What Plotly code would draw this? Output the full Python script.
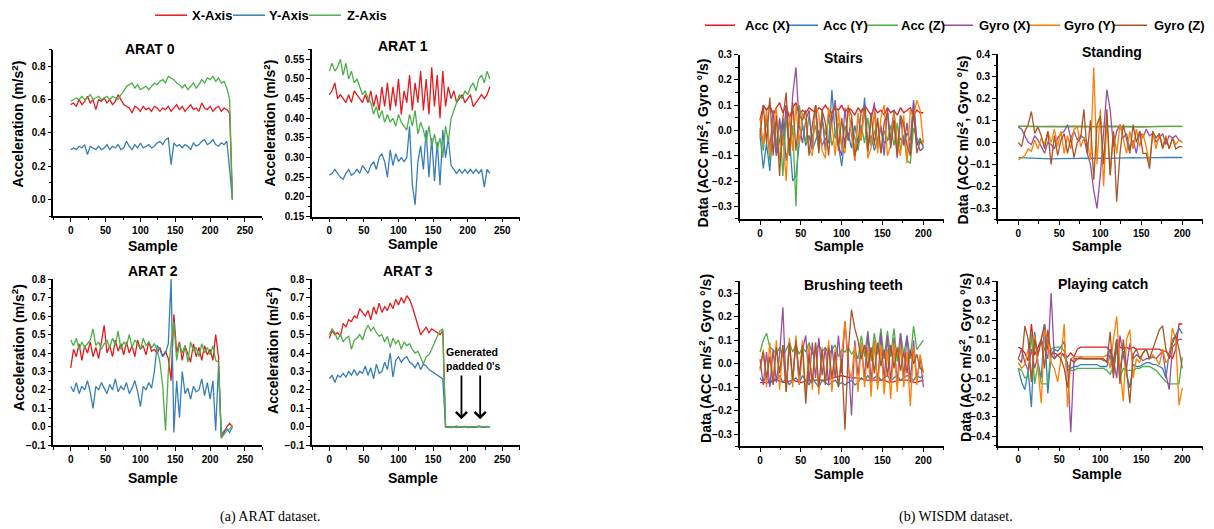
import plotly.graph_objects as go

# ---------------- DATA ----------------
ARAT_SAMPLES = list(range(0, 233, 4))      # 0..232
WISDM_SAMPLES = list(range(0, 201, 4))     # 0..200
FLAT_SAMPLES = list(range(0, 201, 10))     # 0..200

ARAT_NAMES = ["X-Axis", "Y-Axis", "Z-Axis"]
WISDM_NAMES = ["Acc (X)", "Acc (Y)", "Acc (Z)", "Gyro (X)", "Gyro (Y)", "Gyro (Z)"]
ARAT_TITLES = ["ARAT 0", "ARAT 1", "ARAT 2", "ARAT 3"]
WISDM_TITLES = ["Stairs", "Standing", "Brushing teeth", "Playing catch"]

# ARAT 0
arat0_x = [0.57,0.58,0.56,0.60,0.57,0.59,0.62,0.58,0.60,0.54,
           0.60,0.59,0.61,0.58,0.60,0.57,0.59,0.63,0.60,0.57,
           0.56,0.55,0.52,0.56,0.55,0.53,0.56,0.54,0.55,0.53,
           0.56,0.55,0.53,0.55,0.54,0.56,0.53,0.55,0.57,0.54,
           0.56,0.53,0.55,0.57,0.54,0.55,0.53,0.58,0.55,0.54,
           0.56,0.53,0.55,0.56,0.53,0.55,0.54,0.52,0.00]
arat0_y = [0.30,0.31,0.30,0.32,0.31,0.33,0.27,0.32,0.31,0.30,
           0.32,0.30,0.31,0.33,0.30,0.32,0.31,0.33,0.30,0.31,
           0.35,0.32,0.30,0.33,0.31,0.34,0.31,0.32,0.33,0.31,
           0.32,0.34,0.35,0.33,0.36,0.37,0.21,0.34,0.32,0.33,
           0.31,0.33,0.32,0.30,0.34,0.32,0.33,0.35,0.36,0.33,
           0.34,0.36,0.33,0.32,0.34,0.33,0.35,0.18,0.00]
arat0_z = [0.59,0.60,0.61,0.60,0.62,0.60,0.61,0.63,0.60,0.61,
           0.62,0.60,0.61,0.62,0.60,0.62,0.61,0.60,0.63,0.65,
           0.68,0.69,0.70,0.67,0.69,0.66,0.67,0.68,0.66,0.68,
           0.70,0.69,0.71,0.72,0.70,0.74,0.73,0.72,0.70,0.69,
           0.67,0.69,0.66,0.68,0.70,0.67,0.69,0.72,0.70,0.73,
           0.72,0.74,0.71,0.73,0.70,0.71,0.67,0.60,0.00]

# ARAT 1
arat1_x = [0.46,0.47,0.49,0.45,0.46,0.45,0.44,0.46,0.44,0.47,
           0.46,0.45,0.44,0.46,0.44,0.47,0.43,0.46,0.42,0.48,
           0.43,0.49,0.42,0.48,0.43,0.50,0.41,0.47,0.44,0.51,
           0.42,0.49,0.44,0.52,0.42,0.50,0.41,0.53,0.43,0.51,
           0.40,0.52,0.43,0.48,0.45,0.47,0.44,0.45,0.46,0.44,
           0.45,0.46,0.43,0.44,0.45,0.46,0.45,0.46,0.48]
arat1_y = [0.255,0.26,0.27,0.26,0.25,0.245,0.26,0.27,0.255,0.26,
           0.27,0.26,0.28,0.27,0.26,0.28,0.29,0.27,0.30,0.31,
           0.29,0.25,0.32,0.28,0.31,0.29,0.30,0.29,0.30,0.38,
           0.23,0.18,0.29,0.33,0.27,0.37,0.25,0.35,0.24,0.34,
           0.23,0.37,0.30,0.35,0.28,0.27,0.26,0.27,0.26,0.27,
           0.26,0.27,0.26,0.27,0.26,0.27,0.225,0.27,0.26]
arat1_z = [0.52,0.54,0.52,0.53,0.55,0.51,0.54,0.50,0.52,0.49,
           0.50,0.48,0.46,0.47,0.45,0.44,0.41,0.43,0.40,0.42,
           0.39,0.41,0.39,0.40,0.38,0.41,0.39,0.38,0.37,0.41,
           0.38,0.42,0.36,0.39,0.37,0.34,0.38,0.33,0.36,0.32,
           0.35,0.30,0.38,0.34,0.40,0.42,0.44,0.46,0.45,0.47,
           0.46,0.48,0.49,0.47,0.50,0.51,0.49,0.52,0.50]

# ARAT 2
arat2_x = [0.32,0.42,0.38,0.45,0.36,0.44,0.40,0.46,0.38,0.43,
           0.37,0.46,0.55,0.40,0.44,0.38,0.47,0.41,0.45,0.39,
           0.46,0.40,0.44,0.38,0.47,0.42,0.44,0.39,0.46,0.41,
           0.42,0.40,0.43,0.38,0.41,0.37,0.25,0.61,0.40,0.46,
           0.36,0.44,0.40,0.35,0.45,0.38,0.43,0.36,0.44,0.39,
           0.42,0.36,0.50,0.38,-0.06,-0.03,0.00,0.02,0.00]
arat2_y = [0.22,0.19,0.24,0.18,0.22,0.20,0.25,0.19,0.10,0.22,
           0.20,0.24,0.21,0.18,0.23,0.20,0.26,0.19,0.22,0.20,
           0.24,0.18,0.21,0.25,0.19,0.11,0.22,0.20,0.24,0.21,
           0.30,0.44,0.42,0.38,0.40,0.45,0.80,-0.03,0.25,0.05,
           0.30,0.18,0.21,0.15,0.22,0.19,0.20,0.26,0.17,0.24,
           0.15,0.25,-0.02,0.33,-0.04,-0.02,-0.01,-0.03,0.00]
arat2_z = [0.47,0.44,0.48,0.42,0.46,0.43,0.45,0.47,0.53,0.44,
           0.46,0.42,0.45,0.47,0.43,0.48,0.44,0.52,0.42,0.46,
           0.44,0.50,0.43,0.47,0.45,0.42,0.48,0.44,0.46,0.43,
           0.45,0.42,0.35,0.22,-0.02,0.30,0.45,0.57,0.36,0.45,
           0.40,0.44,0.35,0.46,0.41,0.43,0.38,0.45,0.40,0.43,
           0.39,0.44,0.36,0.35,-0.06,-0.04,-0.02,-0.01,0.01]

# ARAT 3 (padded zeros after sample ~166)
arat3_x = [0.48,0.52,0.50,0.51,0.49,0.56,0.54,0.58,0.57,0.60,
           0.59,0.64,0.62,0.60,0.63,0.58,0.65,0.61,0.67,0.62,
           0.65,0.63,0.67,0.64,0.69,0.66,0.70,0.67,0.71,0.69,
           0.65,0.60,0.55,0.50,0.52,0.54,0.51,0.53,0.52,0.51,
           0.50,0.52,
           0.0,0.002,-0.003,0.0,0.004,-0.002,0.0,0.003,-0.004,0.0,
           0.002,-0.003,0.005,0.0,-0.002,0.003,0.0]
arat3_y = [0.26,0.28,0.24,0.28,0.27,0.29,0.27,0.30,0.28,0.31,
           0.28,0.30,0.29,0.33,0.28,0.32,0.26,0.34,0.29,0.30,
           0.35,0.31,0.40,0.27,0.36,0.38,0.35,0.37,0.38,0.35,
           0.34,0.32,0.35,0.31,0.34,0.33,0.31,0.30,0.29,0.28,
           0.27,0.26,
           0.0,-0.002,0.001,0.0,-0.003,0.002,0.0,-0.001,0.002,0.0,
           -0.002,0.001,0.0,0.002,-0.001,0.0,0.001]
arat3_z = [0.50,0.53,0.51,0.47,0.50,0.46,0.48,0.49,0.42,0.47,
           0.48,0.50,0.47,0.52,0.55,0.52,0.54,0.51,0.49,0.50,
           0.46,0.49,0.43,0.48,0.45,0.47,0.42,0.46,0.44,0.45,
           0.42,0.40,0.41,0.37,0.34,0.38,0.39,0.42,0.46,0.49,
           0.52,0.53,
           0.0,-0.003,0.002,-0.004,0.0,0.003,-0.002,0.0,-0.003,0.002,
           0.0,-0.002,0.003,-0.001,0.0,0.002,0.001]

# WISDM - Stairs
stairs_acc_x = [0.04,0.10,0.08,0.10,0.06,0.09,0.11,0.07,0.10,0.05,
                0.09,0.11,0.06,0.08,0.07,0.09,0.08,0.07,0.09,0.08,
                0.10,0.08,0.07,0.09,0.08,0.10,0.07,0.09,0.08,0.06,
                0.09,0.07,0.10,0.08,0.06,0.09,0.07,0.08,0.06,0.09,
                0.07,0.08,0.06,0.09,0.07,0.08,0.09,0.06,0.08,0.07,
                0.07]
stairs_acc_y = [-0.02,-0.15,-0.05,-0.16,0.02,-0.10,-0.04,0.05,-0.12,-0.03,
                -0.20,-0.18,-0.05,0.02,-0.06,-0.02,-0.08,-0.04,0.00,-0.06,
                -0.03,-0.05,0.16,-0.02,-0.06,-0.14,-0.03,-0.01,-0.07,0.02,
                -0.05,-0.03,0.13,-0.06,-0.02,-0.08,-0.03,0.01,-0.05,-0.04,
                -0.02,0.08,-0.06,-0.03,-0.05,-0.01,-0.04,0.12,-0.06,-0.03,
                -0.07]
stairs_acc_z = [0.01,-0.08,0.05,-0.12,0.08,-0.06,0.04,-0.18,0.06,-0.10,
                0.02,-0.30,0.10,0.03,-0.05,0.06,-0.03,0.02,-0.08,0.04,
                -0.02,0.05,-0.06,-0.01,0.03,-0.07,0.02,-0.04,0.04,-0.03,
                -0.08,0.02,-0.05,0.05,-0.06,-0.01,0.03,-0.09,0.00,-0.04,
                0.02,-0.06,0.03,-0.08,-0.02,-0.12,-0.13,0.01,-0.03,-0.05,
                -0.04]
stairs_gyro_x = [0.00,-0.05,0.06,-0.08,0.08,-0.10,0.05,-0.06,0.10,-0.08,
                 0.14,0.25,0.02,-0.05,0.04,0.08,-0.07,0.10,-0.05,0.06,
                 -0.08,0.07,0.03,0.12,-0.06,-0.10,0.09,-0.04,0.05,-0.12,
                 0.06,-0.02,0.10,-0.09,0.04,0.11,-0.07,0.02,-0.10,0.09,
                 -0.05,0.04,-0.11,0.06,-0.06,0.03,-0.09,0.11,-0.04,-0.08,
                 -0.07]
stairs_gyro_y = [0.05,-0.06,0.08,-0.10,0.02,0.09,-0.12,-0.02,-0.20,0.06,
                 -0.08,0.10,-0.05,0.07,0.04,-0.07,-0.10,0.10,0.06,-0.08,
                 -0.11,0.09,0.03,-0.10,0.08,-0.06,-0.09,0.10,-0.02,-0.12,
                 0.07,-0.04,0.09,-0.11,-0.07,0.08,-0.09,0.05,0.10,-0.10,
                 -0.06,0.07,-0.05,-0.10,0.06,-0.13,0.08,0.05,0.12,0.08,
                 -0.05]
stairs_gyro_z = [-0.02,0.10,-0.05,0.13,-0.10,0.06,-0.18,0.05,0.15,-0.10,
                 0.11,-0.08,0.06,0.04,0.08,-0.10,0.02,0.10,-0.09,0.08,
                 0.03,-0.10,0.07,0.10,-0.08,0.05,-0.07,0.09,0.06,-0.10,
                 -0.05,0.08,0.09,-0.08,0.07,-0.06,0.05,-0.09,0.03,0.07,
                 -0.07,0.04,-0.10,0.06,0.02,-0.06,-0.10,0.08,-0.09,-0.04,
                 -0.06]

# WISDM - Standing
standing_acc_x = [0.072,0.071,0.070,0.071,0.072,0.070,0.071,0.072,0.070,0.071,0.072,
                  0.071,0.070,0.072,0.071,0.070,0.071,0.072,0.070,0.071,0.072]
standing_acc_y = [-0.070,-0.072,-0.074,-0.073,-0.075,-0.074,-0.073,-0.072,-0.074,-0.073,-0.072,
                  -0.073,-0.071,-0.072,-0.070,-0.071,-0.069,-0.070,-0.069,-0.070,-0.069]
standing_acc_z = [0.073,0.072,0.071,0.073,0.072,0.071,0.073,0.072,0.074,0.072,0.071,
                  0.073,0.072,0.071,0.073,0.072,0.071,0.072,0.073,0.072,0.071]
standing_gyro_x = [0.07,0.06,0.03,0.00,-0.01,0.03,0.01,-0.02,-0.05,0.00,
                   -0.01,-0.03,0.02,0.04,0.05,0.08,0.02,0.05,0.01,0.03,
                   0.02,-0.05,-0.10,-0.22,-0.30,-0.15,0.05,0.24,0.15,-0.02,
                   0.05,0.08,0.02,0.04,-0.03,0.01,-0.05,0.05,0.02,0.06,
                   0.03,0.04,0.00,0.02,0.04,-0.01,0.03,0.02,0.03,0.01,
                   0.00]
standing_gyro_y = [-0.08,-0.07,-0.06,-0.03,-0.04,0.01,-0.03,0.02,-0.01,0.05,
                   0.00,0.06,-0.02,0.05,-0.05,0.03,-0.03,0.06,0.07,-0.02,
                   0.02,0.00,-0.08,0.34,-0.10,0.15,-0.20,0.10,-0.15,0.05,
                   -0.05,0.08,0.02,-0.05,0.05,-0.03,0.06,-0.02,0.04,-0.02,
                   -0.10,0.05,-0.03,0.04,-0.02,0.03,-0.03,0.02,-0.01,0.01,
                   0.00]
standing_gyro_z = [0.00,-0.02,0.05,0.08,0.14,0.04,0.07,0.03,-0.03,0.05,
                   -0.10,0.03,-0.06,0.01,0.04,-0.05,0.02,-0.07,0.00,0.02,
                   0.15,-0.05,0.10,-0.17,0.08,0.12,-0.10,0.15,-0.15,0.05,
                   -0.27,-0.05,0.08,0.02,-0.05,0.08,0.00,0.05,-0.05,-0.05,
                   -0.12,0.05,0.02,0.04,-0.03,0.02,-0.03,0.02,-0.03,-0.02,
                   -0.02]

# WISDM - Brushing teeth
brushing_acc_x = [-0.08,-0.08,-0.07,-0.08,-0.07,-0.08,-0.07,-0.07,-0.07,-0.06,-0.05,
                  -0.06,-0.06,-0.07,-0.07,-0.07,-0.08,-0.07,-0.07,-0.08,-0.07]
brushing_acc_y = [-0.06,-0.08,-0.05,-0.09,-0.06,-0.07,-0.05,-0.08,-0.06,-0.09,
                  -0.07,-0.06,-0.08,-0.05,-0.07,-0.09,-0.06,-0.08,-0.10,-0.07,
                  -0.08,-0.09,-0.08,-0.07,-0.09,-0.08,-0.09,-0.08,-0.07,-0.09,
                  -0.08,-0.06,-0.07,-0.05,-0.07,-0.06,-0.05,-0.07,-0.06,-0.05,
                  -0.07,-0.06,-0.05,-0.07,-0.06,-0.05,-0.06,-0.07,-0.05,-0.06,
                  -0.05]
brushing_acc_z = [0.05,0.10,0.13,0.07,0.06,0.04,0.07,0.03,0.06,0.09,
                  0.05,0.08,0.04,0.07,0.05,0.09,0.04,0.06,0.08,0.05,
                  0.07,0.04,0.06,0.08,0.03,0.06,0.05,0.07,0.04,0.06,
                  0.02,0.12,0.03,0.14,0.01,0.13,0.04,0.15,0.02,0.14,
                  0.03,0.15,0.01,0.13,0.04,0.12,0.02,0.16,0.06,0.08,
                  0.10]
brushing_gyro_x = [0.02,-0.09,0.05,-0.10,0.06,-0.08,0.04,0.24,-0.10,0.08,
                   -0.07,0.10,-0.09,0.06,0.12,-0.08,0.09,-0.06,0.11,-0.05,
                   0.07,-0.09,0.08,-0.06,0.12,-0.04,0.18,0.02,-0.22,0.10,
                   -0.05,0.08,-0.06,0.13,-0.08,0.10,-0.09,0.13,-0.07,0.12,
                   -0.08,0.11,-0.09,0.13,-0.06,0.12,-0.08,0.10,-0.07,0.03,
                   -0.10]
brushing_gyro_y = [-0.03,0.06,-0.10,0.09,-0.08,0.10,-0.11,0.08,-0.12,0.11,
                   -0.10,0.12,-0.09,0.10,-0.14,0.08,-0.11,0.09,-0.13,0.07,
                   -0.08,0.10,-0.12,0.06,-0.10,0.05,0.18,-0.02,-0.06,0.08,
                   -0.12,0.09,-0.10,0.07,-0.14,0.10,-0.11,0.08,-0.13,0.06,
                   -0.15,0.09,-0.12,0.08,-0.10,0.05,-0.18,0.07,-0.09,0.04,
                   -0.04]
brushing_gyro_z = [-0.02,0.05,-0.06,0.03,-0.09,0.07,-0.04,0.08,-0.12,0.09,
                   -0.07,0.10,-0.05,0.08,-0.17,0.04,-0.08,0.09,-0.10,0.06,
                   -0.09,0.07,-0.06,0.05,-0.10,0.02,-0.28,0.05,0.23,0.15,
                   0.10,0.02,0.08,-0.02,0.07,-0.04,0.09,-0.01,0.06,-0.05,
                   0.08,-0.02,0.07,-0.03,0.05,-0.04,0.06,0.00,0.04,-0.02,
                   -0.03]

# WISDM - Playing catch
catch_acc_x = [0.06,0.05,0.03,-0.01,0.18,0.02,0.06,0.10,0.18,0.05,
               0.02,0.03,0.02,0.03,0.02,0.01,0.03,0.01,0.05,0.06,
               0.06,0.06,0.06,0.06,0.06,0.06,0.06,0.06,0.04,-0.02,
               0.10,0.06,0.05,0.06,0.05,0.06,0.05,0.05,0.05,0.05,
               0.05,0.05,0.05,0.05,0.04,0.04,0.02,0.00,0.05,0.18,
               0.18]
catch_acc_y = [-0.05,-0.12,-0.16,-0.06,-0.25,0.14,-0.02,-0.10,0.18,-0.18,
               0.02,0.05,0.04,0.06,0.09,-0.06,-0.05,-0.04,-0.04,-0.03,
               -0.03,-0.03,-0.03,-0.03,-0.03,-0.04,-0.04,-0.04,0.02,-0.08,
               0.10,-0.05,0.04,-0.08,-0.15,-0.03,-0.04,-0.04,-0.03,-0.02,
               -0.02,-0.03,-0.03,-0.04,-0.05,-0.10,0.03,0.10,0.12,0.16,
               0.13]
catch_acc_z = [-0.05,-0.06,-0.10,-0.09,0.13,-0.13,-0.03,-0.13,-0.13,-0.13,
               0.05,0.06,0.06,0.06,0.04,-0.03,-0.06,-0.06,-0.05,-0.05,
               -0.05,-0.05,-0.05,-0.05,-0.05,-0.05,-0.05,-0.06,-0.08,-0.04,
               0.05,-0.10,-0.05,-0.06,-0.06,-0.06,-0.05,-0.05,-0.04,-0.04,
               -0.04,-0.05,-0.06,-0.08,-0.10,-0.12,-0.13,-0.13,-0.13,-0.13,
               0.01]
catch_gyro_x = [0.00,0.05,-0.02,-0.06,0.05,-0.05,0.02,0.10,0.05,0.00,
                0.34,0.00,0.02,0.03,0.01,-0.02,-0.38,0.00,0.00,0.01,
                0.00,0.00,0.00,0.00,0.00,0.00,-0.01,-0.01,0.05,0.00,
                -0.10,0.12,0.02,-0.05,0.08,0.00,0.02,0.01,-0.01,0.00,
                0.00,0.01,0.00,0.02,0.04,-0.08,-0.16,0.06,0.08,0.10,
                0.10]
catch_gyro_y = [-0.02,-0.05,-0.03,0.05,-0.10,0.12,-0.05,-0.23,0.15,0.08,
                -0.02,-0.05,-0.12,0.00,0.18,-0.25,0.00,0.01,0.01,0.01,
                0.01,0.01,0.01,0.01,0.01,0.01,0.01,0.02,-0.05,0.10,
                0.22,-0.05,-0.22,0.10,0.15,-0.10,0.00,-0.02,0.03,0.05,
                0.00,0.02,0.00,-0.03,0.05,-0.02,0.00,0.16,0.10,-0.24,
                -0.15]
catch_gyro_z = [0.00,-0.02,0.17,0.10,-0.12,0.10,0.02,0.10,-0.05,0.15,
                0.02,0.00,0.02,0.00,-0.05,-0.15,0.00,-0.02,0.00,0.00,
                0.00,0.00,0.00,0.00,0.00,0.00,0.00,-0.02,0.14,-0.10,
                0.10,-0.13,0.10,-0.05,-0.23,0.02,0.05,0.00,0.03,0.05,
                0.00,0.05,0.10,0.15,0.17,0.05,0.00,0.08,0.12,0.05,
                -0.05]

# ---------------- STYLE ----------------
# The page body keeps an 8 px margin; positions below are given in
# picture pixels and converted to figure coordinates (the photographed
# picture is slightly compressed vertically relative to page pixels).
PAGE_MARGIN = 8
Y_OFF, Y_SCALE = 6.0, 0.975
W, H = 1214 - 2 * PAGE_MARGIN, 524
FONT = "Liberation Sans"
ARAT_COLORS = ["#E41A1C", "#377EB8", "#4DAF4A"]
WISDM_COLORS = ["#E41A1C", "#377EB8", "#4DAF4A", "#984EA3", "#FF7F00", "#A65628"]

def fx(p):
    return (p - PAGE_MARGIN) / W

def fy(p):
    page_y = (p - Y_OFF) / Y_SCALE
    return 1 - (page_y - PAGE_MARGIN) / H

# panel geometry in picture pixels: (left, right, top, bottom), x range, y range, y dtick, y minor, y fmt, tick0
PANELS = [
    ((53.3, 262.4, 49.4, 215.6), [-25, 275], [-0.1, 0.9], 0.2, 0.1, ".1f", 0),
    ((312.0, 519.6, 49.2, 216.0), [-25, 275], [0.15, 0.575], 0.05, 0.025, ".2f", 0.15),
    ((53.3, 262.4, 278.3, 444.3), [-25, 275], [-0.1, 0.8], 0.1, 0.05, ".1f", 0),
    ((312.0, 519.6, 278.3, 444.3), [-25, 275], [-0.1, 0.8], 0.1, 0.05, ".1f", 0),
    ((739.6, 943.8, 54.3, 218.3), [-25, 225], [-0.35, 0.3], 0.1, 0.05, ".1f", 0),
    ((997.8, 1202.8, 54.0, 218.7), [-25, 225], [-0.35, 0.4], 0.1, 0.05, ".1f", 0),
    ((739.6, 943.8, 280.6, 445.0), [-25, 225], [-0.35, 0.35], 0.1, 0.05, ".1f", 0),
    ((997.8, 1202.8, 280.7, 444.6), [-25, 225], [-0.45, 0.4], 0.1, 0.05, ".1f", 0),
]

fig = go.Figure()

def axid(i, letter):
    return letter if i == 0 else f"{letter}{i+1}"

def add_series(i, xs, ys, color, name):
    if len(xs) != len(ys):
        raise ValueError(f"length mismatch for {name} in panel {i}: {len(xs)} vs {len(ys)}")
    fig.add_trace(go.Scatter(
        x=xs, y=ys, mode="lines", name=name,
        line=dict(color=color, width=1.3),
        xaxis=axid(i, "x"), yaxis=axid(i, "y"),
        showlegend=False, hoverinfo="skip"))

arat_data = [(arat0_x, arat0_y, arat0_z), (arat1_x, arat1_y, arat1_z),
             (arat2_x, arat2_y, arat2_z), (arat3_x, arat3_y, arat3_z)]
for p, series in enumerate(arat_data):
    for k, ys in enumerate(series):
        add_series(p, ARAT_SAMPLES, ys, ARAT_COLORS[k], ARAT_NAMES[k])

wisdm_data = [
    [(WISDM_SAMPLES, stairs_acc_x), (WISDM_SAMPLES, stairs_acc_y), (WISDM_SAMPLES, stairs_acc_z),
     (WISDM_SAMPLES, stairs_gyro_x), (WISDM_SAMPLES, stairs_gyro_y), (WISDM_SAMPLES, stairs_gyro_z)],
    [(FLAT_SAMPLES, standing_acc_x), (FLAT_SAMPLES, standing_acc_y), (FLAT_SAMPLES, standing_acc_z),
     (WISDM_SAMPLES, standing_gyro_x), (WISDM_SAMPLES, standing_gyro_y), (WISDM_SAMPLES, standing_gyro_z)],
    [(FLAT_SAMPLES, brushing_acc_x), (WISDM_SAMPLES, brushing_acc_y), (WISDM_SAMPLES, brushing_acc_z),
     (WISDM_SAMPLES, brushing_gyro_x), (WISDM_SAMPLES, brushing_gyro_y), (WISDM_SAMPLES, brushing_gyro_z)],
    [(WISDM_SAMPLES, catch_acc_x), (WISDM_SAMPLES, catch_acc_y), (WISDM_SAMPLES, catch_acc_z),
     (WISDM_SAMPLES, catch_gyro_x), (WISDM_SAMPLES, catch_gyro_y), (WISDM_SAMPLES, catch_gyro_z)],
]
for q, series in enumerate(wisdm_data):
    for k, (xs, ys) in enumerate(series):
        add_series(4 + q, xs, ys, WISDM_COLORS[k], WISDM_NAMES[k])

layout = dict(
    width=W, height=H, autosize=False,
    margin=dict(l=0, r=0, t=0, b=0),
    paper_bgcolor="white", plot_bgcolor="white",
    font=dict(family=FONT, color="black"),
    showlegend=False,
)

tickfont = dict(family=FONT, size=10, color="black", weight="bold")
annotations = []
shapes = []
for i, ((l, r, t, b), xr, yr, ydt, yminor, yfmt, y0) in enumerate(PANELS):
    xa = "xaxis" if i == 0 else f"xaxis{i+1}"
    ya = "yaxis" if i == 0 else f"yaxis{i+1}"
    layout[xa] = dict(
        domain=[fx(l), fx(r)], range=xr, anchor=axid(i, "y"),
        showgrid=False, zeroline=False, showline=True, linecolor="black", linewidth=1.5,
        ticks="outside", ticklen=4, tickwidth=1.2, tickcolor="black",
        tick0=0, dtick=50, tickfont=tickfont,
        minor=dict(ticks="outside", ticklen=2.5, tickwidth=1, tickcolor="black", dtick=25, tick0=0),
    )
    layout[ya] = dict(
        domain=[fy(b), fy(t)], range=yr, anchor=axid(i, "x"),
        showgrid=False, zeroline=False, showline=True, linecolor="black", linewidth=1.5,
        ticks="outside", ticklen=4, tickwidth=1.2, tickcolor="black",
        tick0=y0, dtick=ydt, tickformat=yfmt, tickfont=tickfont,
        minor=dict(ticks="outside", ticklen=2.5, tickwidth=1, tickcolor="black", dtick=yminor, tick0=y0),
    )

# legends (line sample + label), picture pixel positions
LEG_FONT = dict(family=FONT, size=13, color="black", weight="bold")
ARAT_LEG = [(155, 187, 190), (233, 265, 267), (309, 341, 345)]
for (x0, x1, tx), name, col in zip(ARAT_LEG, ARAT_NAMES, ARAT_COLORS):
    shapes.append(dict(type="line", xref="paper", yref="paper", x0=fx(x0), x1=fx(x1),
                       y0=fy(15), y1=fy(15), line=dict(color=col, width=1.5)))
    annotations.append(dict(text=name, x=fx(tx), y=fy(15.5), xref="paper", yref="paper",
                            showarrow=False, xanchor="left", yanchor="middle", font=LEG_FONT))
WISDM_LEG = [(705, 735, 743), (787, 818, 821), (866, 898, 899),
             (944, 973, 977), (1028, 1060, 1062), (1113, 1147, 1152)]
for (x0, x1, tx), name, col in zip(WISDM_LEG, WISDM_NAMES, WISDM_COLORS):
    shapes.append(dict(type="line", xref="paper", yref="paper", x0=fx(x0), x1=fx(x1),
                       y0=fy(25), y1=fy(25), line=dict(color=col, width=1.5)))
    annotations.append(dict(text=name, x=fx(tx), y=fy(25.5), xref="paper", yref="paper",
                            showarrow=False, xanchor="left", yanchor="middle", font=LEG_FONT))

# subplot titles (pixel centre)
TITLE_POS = [(150, 49), (403, 46), (153, 270), (408, 270),
             (843, 58), (1112, 52), (853, 284), (1103, 283)]
for txt, (px, py) in zip(ARAT_TITLES + WISDM_TITLES, TITLE_POS):
    annotations.append(dict(text=txt, x=fx(px), y=fy(py), xref="paper", yref="paper",
                            showarrow=False, xanchor="center", yanchor="middle",
                            font=dict(family=FONT, size=14, color="black", weight="bold")))

# x-axis titles
XT_POS = [(153, 245), (413, 243), (153, 477), (413, 477),
          (839, 245), (1097, 245), (839, 473), (1097, 473)]
for px, py in XT_POS:
    annotations.append(dict(text="Sample", x=fx(px), y=fy(py), xref="paper", yref="paper",
                            showarrow=False, xanchor="center", yanchor="middle",
                            font=dict(family=FONT, size=14, color="black", weight="bold")))

# y-axis titles
YT_POS = [(18, 124), (270, 123), (18, 347), (272, 350)]
for px, py in YT_POS:
    annotations.append(dict(text="Acceleration (m/s<sup>2</sup>)", x=fx(px), y=fy(py),
                            xref="paper", yref="paper", showarrow=False, textangle=-90,
                            xanchor="center", yanchor="middle",
                            font=dict(family=FONT, size=14, color="black", weight="bold")))
YT2_POS = [(703, 143), (963, 140), (705, 358), (965, 357)]
for px, py in YT2_POS:
    annotations.append(dict(text="Data (ACC m/s<sup>2</sup>, Gyro °/s)", x=fx(px), y=fy(py),
                            xref="paper", yref="paper", showarrow=False, textangle=-90,
                            xanchor="center", yanchor="middle",
                            font=dict(family=FONT, size=14, color="black", weight="bold")))

# ARAT 3 annotation and arrows
annotations.append(dict(text="Generated<br>padded 0's", x=209, y=0.368, xref="x4", yref="y4",
                        showarrow=False, xanchor="center", yanchor="middle", align="left",
                        font=dict(family=FONT, size=10.5, color="black", weight="bold")))
for ax_x in (191, 218):
    annotations.append(dict(text="", x=ax_x, y=0.042, ax=ax_x, ay=0.286,
                            xref="x4", yref="y4", axref="x4", ayref="y4",
                            showarrow=True, arrowhead=4, arrowsize=1.2, arrowwidth=1.8,
                            arrowcolor="black", standoff=0))

# captions
annotations.append(dict(text="(a) ARAT dataset.", x=fx(270), y=fy(516), xref="paper", yref="paper",
                        showarrow=False, xanchor="center", yanchor="middle",
                        font=dict(family="Liberation Serif", size=14, color="black")))
annotations.append(dict(text="(b) WISDM dataset.", x=fx(956), y=fy(516), xref="paper", yref="paper",
                        showarrow=False, xanchor="center", yanchor="middle",
                        font=dict(family="Liberation Serif", size=14, color="black")))

layout["annotations"] = annotations
layout["shapes"] = shapes
fig.update_layout(**layout)
fig.write_html("out.html", config={"responsive": False})
